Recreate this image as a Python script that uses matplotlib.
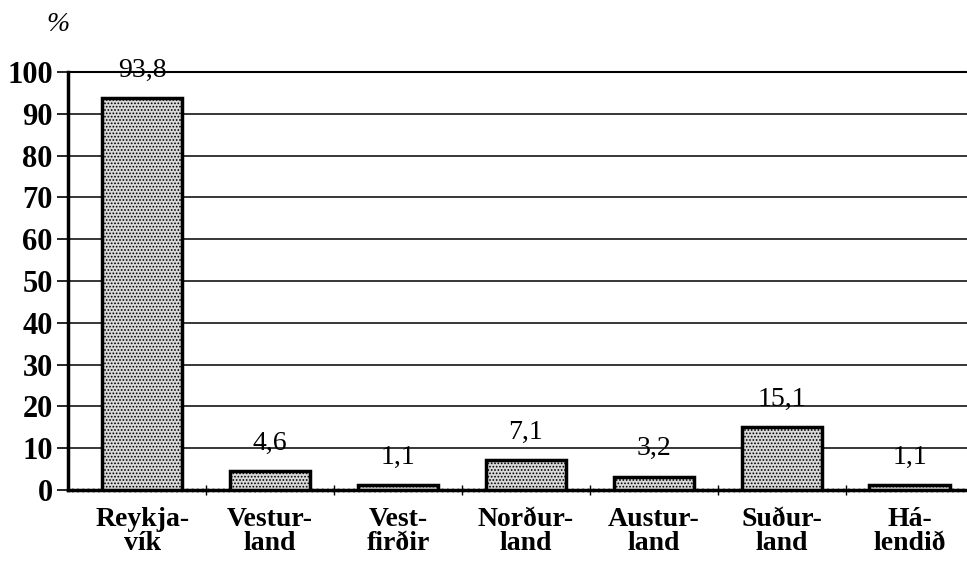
import matplotlib.pyplot as plt
import numpy as np

# Data
REGIONS = ["Reykja-\nvík", "Vestur-\nland", "Vest-\nfirðir", "Norður-\nland",
           "Austur-\nland", "Suður-\nland", "Há-\nlendið"]
SHARES = [93.8, 4.6, 1.1, 7.1, 3.2, 15.1, 1.1]
SHARE_LABELS = ["93,8", "4,6", "1,1", "7,1", "3,2", "15,1", "1,1"]
Y_TICKS = list(range(0, 101, 10))
OUTPUT_FILE = "out.png"


def plot_shares():
    plt.rcParams['font.family'] = ['Liberation Serif', 'DejaVu Serif']
    plt.rcParams['hatch.color'] = '#555555'
    plt.rcParams['hatch.linewidth'] = 0.8

    fig = plt.figure(figsize=(9.67, 5.62), dpi=100)
    ax = fig.add_axes([0.0703, 0.128, 0.93, 0.744])

    x = np.arange(len(REGIONS))
    ax.bar(x, SHARES, width=0.63, facecolor='#d9d9d9', edgecolor='black',
           linewidth=2.5, hatch='.....', zorder=3)

    for xi, val, lab in zip(x, SHARES, SHARE_LABELS):
        ax.annotate(lab, (xi, val), xytext=(0, 11), textcoords='offset points',
                    ha='center', va='bottom', fontsize=20, zorder=4)

    ax.set_xlim(-0.58, 6.45)
    ax.set_ylim(0, 100)
    ax.set_yticks(Y_TICKS)
    ax.set_yticklabels([str(t) for t in Y_TICKS], fontsize=22, fontweight='bold')
    ax.set_xticks(x)
    ax.set_xticklabels(REGIONS, fontsize=20, fontweight='bold', linespacing=0.95)
    ax.tick_params(axis='x', length=0, pad=12)
    ax.set_xticks(x[:-1] + 0.5, minor=True)
    ax.tick_params(axis='x', which='minor', length=7, width=1, direction='inout')
    ax.tick_params(axis='y', length=8, width=1.2, pad=3)

    ax.grid(axis='y', color='black', linewidth=1.1, zorder=1)
    ax.set_axisbelow(True)
    ax.spines['right'].set_visible(False)
    ax.spines['top'].set_linestyle((0, (1, 1)))
    ax.spines['top'].set_linewidth(1.5)
    ax.spines['left'].set_linewidth(2.5)
    ax.spines['bottom'].set_linewidth(2.5)
    ax.spines['bottom'].set_linestyle((0, (1, 0.5)))

    fig.text(0.06, 0.957, "%", fontsize=20, style='italic', ha='center', va='center')

    fig.savefig(OUTPUT_FILE, dpi=100)


def main():
    plot_shares()


if __name__ == "__main__":
    main()
